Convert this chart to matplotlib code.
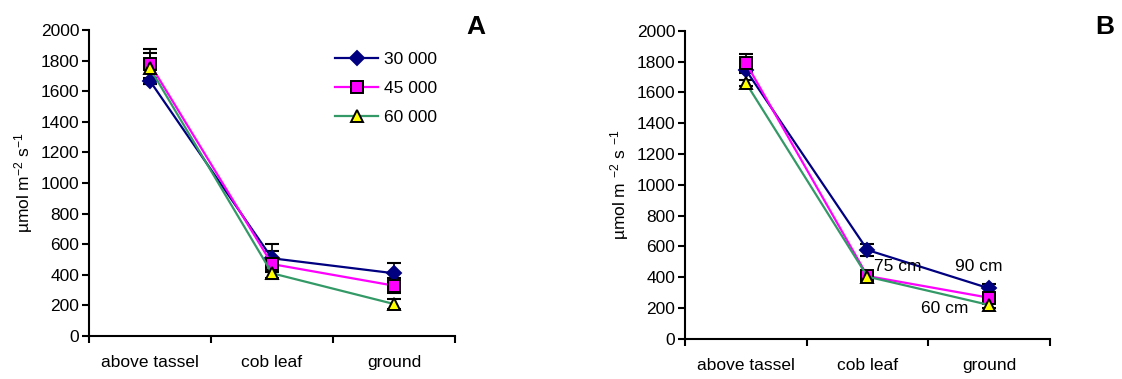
import matplotlib
matplotlib.use("Agg")
import matplotlib.pyplot as plt
import numpy as np

plt.rcParams['font.family'] = ['Liberation Sans', 'DejaVu Sans']
plt.rcParams['mathtext.fontset'] = 'custom'
plt.rcParams['mathtext.rm'] = 'Liberation Sans'
plt.rcParams['mathtext.it'] = 'Liberation Sans'

categories = ["above tassel", "cob leaf", "ground"]
series_names = ["30 000", "45 000", "60 000"]

# Panel A values
a_30 = [1667, 508, 410]
a_45 = [1778, 470, 329]
a_60 = [1750, 410, 209]
a_err_30 = [20, 90, 65]
a_err_45 = [100, 88, 48]
a_err_60 = [100, 40, 30]

# Panel B values
b_30 = [1745, 576, 327]
b_45 = [1792, 407, 266]
b_60 = [1662, 403, 219]
b_err_30 = [20, 40, 30]
b_err_45 = [55, 20, 20]
b_err_60 = [20, 20, 20]

yticks = list(range(0, 2001, 200))

colors = ["#000080", "#FF00FF", "#339966"]
markers = ["D", "s", "^"]
mfaces = ["#000080", "#FF00FF", "#FFFF00"]
medges = ["#000080", "#000000", "#000000"]
msizes = [7, 8.5, 8.5]

FS = 12.5

fig = plt.figure(figsize=(11.22, 3.79), dpi=100)

def draw(ax, data, errs, ylabel):
    x = np.arange(len(categories)) + 0.5
    for i, (vals, e) in enumerate(zip(data, errs)):
        ax.errorbar(x, vals, yerr=e, fmt='none', ecolor='black', elinewidth=1.2,
                    capsize=5, capthick=1.5, zorder=2)
    for i, vals in enumerate(data):
        ax.plot(x, vals, color=colors[i], lw=1.6, marker=markers[i],
                markerfacecolor=mfaces[i], markeredgecolor=medges[i],
                markeredgewidth=1.4, markersize=msizes[i], label=series_names[i], zorder=3)
    ax.set_xlim(0, 3)
    ax.set_ylim(0, 2000)
    ax.set_yticks(yticks)
    ax.set_xticks([0, 1, 2, 3])
    ax.set_xticklabels([])
    ax.set_xticks(x, minor=True)
    ax.set_xticklabels(categories, minor=True)
    ax.tick_params(axis='x', which='minor', length=0, pad=14, labelsize=FS)
    ax.tick_params(axis='x', which='major', direction='out', length=5, width=1.5)
    ax.tick_params(axis='y', direction='out', length=5, width=1.5, labelsize=FS, pad=2)
    for s in ['top', 'right']:
        ax.spines[s].set_visible(False)
    for s in ['left', 'bottom']:
        ax.spines[s].set_linewidth(1.5)
    ax.set_ylabel(ylabel, fontsize=FS, labelpad=4)

axA = fig.add_axes([0.0793, 0.1135, 0.3262, 0.8073])
draw(axA, [a_30, a_45, a_60], [a_err_30, a_err_45, a_err_60], r"µmol m$^{-2}$ s$^{-1}$")
axA.legend(loc='upper left', bbox_to_anchor=(0.2986, 0.862), bbox_transform=fig.transFigure,
           frameon=False, fontsize=FS, handlelength=2.5, labelspacing=0.78,
           handletextpad=0.3, borderaxespad=0, borderpad=0)
fig.text(0.424, 0.93, "A", fontsize=19, fontweight='bold', ha='center', va='center')

axB = fig.add_axes([0.6105, 0.1063, 0.3253, 0.8127])
draw(axB, [b_30, b_45, b_60], [b_err_30, b_err_45, b_err_60], r"µmol m $^{-2}$ s $^{-1}$")
axB.text(1.55, 470, "75 cm", fontsize=FS, ha='left', va='center')
axB.text(2.22, 470, "90 cm", fontsize=FS, ha='left', va='center')
axB.text(1.94, 195, "60 cm", fontsize=FS, ha='left', va='center')
fig.text(0.985, 0.93, "B", fontsize=19, fontweight='bold', ha='center', va='center')

fig.savefig("out.png", dpi=100)
